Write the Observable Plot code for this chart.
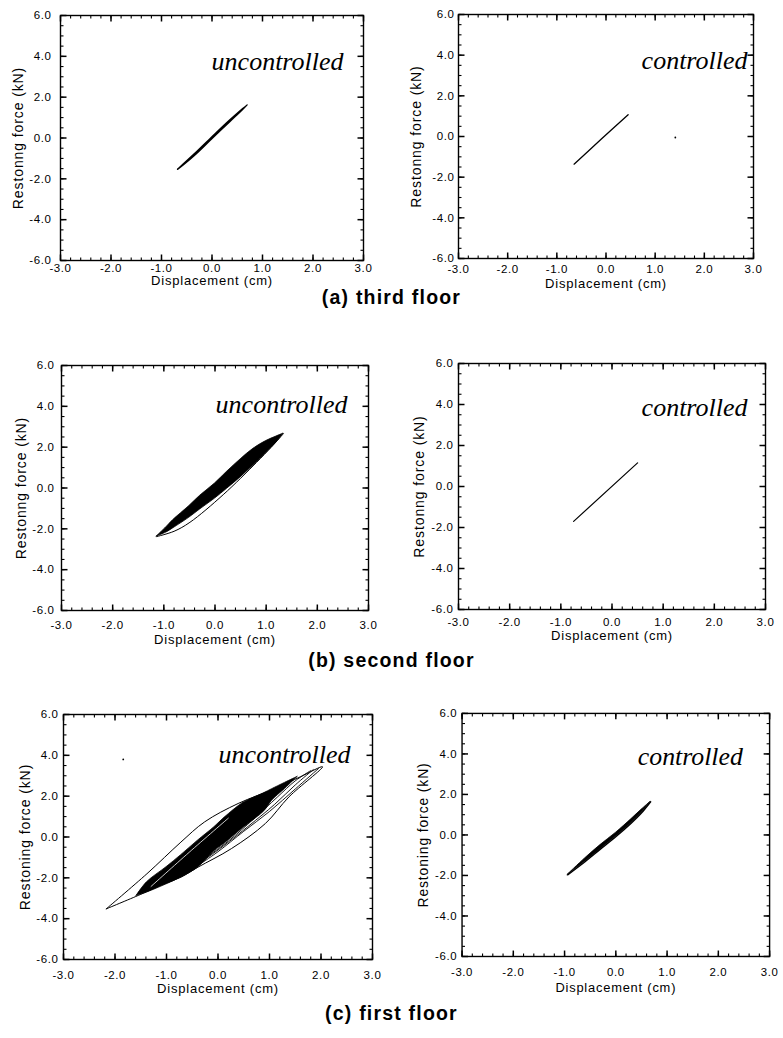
<!DOCTYPE html>
<html><head><meta charset="utf-8">
<script src="https://cdn.jsdelivr.net/npm/d3@7"></script>
<script src="https://cdn.jsdelivr.net/npm/@observablehq/plot@0.6"></script>
<style>
html,body{margin:0;padding:0;background:#fff;}
#page{position:relative;width:783px;height:1038px;overflow:hidden;background:#fff;}
.panel{position:absolute;}
.caption{position:absolute;left:0;width:783px;text-align:center;font-family:"Liberation Sans",Arial,sans-serif;font-weight:bold;font-size:19.5px;letter-spacing:1.2px;color:#000;line-height:20px;}
</style></head><body><div id="page"></div>
<script>
// ---- axis ticks ----
const xTicks = [-3, -2, -1, 0, 1, 2, 3];
const yTicks = [-6, -4, -2, 0, 2, 4, 6];
const xMinor = d3.ticks(-3, 3, 30);   // 0.2 steps
const yMinor = d3.ticks(-6, 6, 30);   // 0.4 steps

// ---- data: [displacement cm, force kN] ----
// (a) third floor
const thirdUncontrolled = [[-0.68,-1.53],[-0.35,-0.78],[0,0.06],[0.35,0.88],[0.70,1.63],[0.35,0.80],[0,-0.02],[-0.35,-0.85],[-0.68,-1.53]];
const thirdControlled = [[-0.65,-1.36],[-0.1,-0.14],[0.45,1.07]];
const thirdControlledSpeck = [[1.41,-0.05]];
// (b) second floor  band rows: [x, lower, upper]
const secondUncBand = [[-1.14,-2.38,-2.38],[-0.95,-2.18,-1.92],[-0.82,-1.98,-1.58],[-0.5,-1.45,-0.88],[-0.29,-1.05,-0.38],[0,-0.52,0.22],[0.23,-0.05,0.78],[0.5,0.52,1.40],[0.75,1.10,1.92],[1.0,1.72,2.30],[1.2,2.22,2.52],[1.34,2.67,2.67]];
const secondUncLoop = [[-1.14,-2.38],[-0.8,-2.12],[-0.49,-1.68],[0.16,-0.33],[0.81,1.25],[1.1,2.0],[1.34,2.67]];
const secondControlled = [[-0.75,-1.7],[0.5,1.15]];
// (c) first floor
const firstUncBand = [[-1.58,-2.88,-2.88],[-1.38,-2.72,-2.22],[-1.0,-2.32,-1.48],[-0.72,-1.99,-0.90],[-0.39,-1.50,-0.18],[-0.07,-0.70,0.48],[0.13,-0.32,0.95],[0.46,0.38,1.62],[0.59,0.64,1.80],[0.9,1.26,2.15],[1.05,1.78,2.34],[1.3,2.35,2.65],[1.55,2.95,2.95]];
const firstUncOuter = [[-2.17,-3.52],[-1.38,-1.80],[-0.72,-0.25],[-0.26,0.74],[0.39,1.64],[1.12,2.38],[1.6,2.95],[2.03,3.44],[1.38,1.97],[0.92,0.66],[0.26,-0.57],[-0.39,-1.48],[-0.72,-1.97],[-1.05,-2.30],[-1.51,-2.82],[-2.17,-3.52]];
const firstUncInner1 = [[-0.39,-1.40],[0.0,-0.72],[0.5,0.28],[1.0,1.25],[1.5,2.35],[1.95,3.35]];
const firstUncInner2 = [[-0.3,-1.18],[0.1,-0.45],[0.6,0.55],[1.1,1.6],[1.5,2.55],[1.85,3.3]];
const firstUncInner3 = [[-0.2,-0.95],[0.2,-0.2],[0.7,0.9],[1.15,1.95],[1.5,2.75],[1.8,3.25]];
const firstUncGap = [[-1.3,-2.42],[-0.56,-0.75],[0.2,0.92]];
const firstUncSpeck = [[-1.84,3.80]];
const firstControlledBand = [[-0.94,-1.97,-1.97],[-0.6,-1.32,-1.16],[-0.3,-0.70,-0.50],[0,-0.09,0.10],[0.3,0.58,0.77],[0.5,1.08,1.24],[0.68,1.64,1.64]];

const captions = ["(a) third floor", "(b) second floor", "(c) first floor"];

// ---- mark helpers ----
const X = d => d[0], Y = d => d[1];
const band = (data, o = {}) => Plot.areaY(data, {x: X, y1: d => d[1], y2: d => d[2], fill: "black", stroke: "black", strokeWidth: 0.8, curve: "catmull-rom", ...o});
const loop = (data, o = {}) => Plot.line(data, {x: X, y: Y, stroke: "black", strokeWidth: 1, curve: "catmull-rom", ...o});
const speck = data => Plot.dot(data, {x: X, y: Y, r: 0.9, fill: "black"});

// ---- layout of the six panels (page pixels) ----
const panels = [
  {frame:[60,15,363,260], ylabel:"Restonng force (kN)", title:"uncontrolled", tdx:-20, tdy:54, xPad:3, xLab:24, yPad:9, yLab:47,
   marks:[loop(thirdUncontrolled, {strokeWidth: 1.6})]},
  {frame:[458,14,753,258], ylabel:"Restonng force (kN)", title:"controlled", tdx:-6, tdy:54, xPad:6, xLab:29, yPad:4, yLab:47,
   marks:[loop(thirdControlled, {strokeWidth: 1.3}), speck(thirdControlledSpeck)]},
  {frame:[61,365,368,610], ylabel:"Restonng force (kN)", title:"uncontrolled", tdx:-21, tdy:47, xPad:10, xLab:33, yPad:7, yLab:45,
   marks:[band(secondUncBand), loop(secondUncLoop)]},
  {frame:[458,363,765,609], ylabel:"Restonng force (kN)", title:"controlled", tdx:-18, tdy:52, xPad:8, xLab:30, yPad:5, yLab:44,
   marks:[loop(secondControlled, {strokeWidth: 1.2})]},
  {frame:[63,714,372,959], ylabel:"Restoning force (kN)", title:"uncontrolled", tdx:-22, tdy:48, xPad:11, xLab:33, yPad:5, yLab:43,
   marks:[band(firstUncBand), loop(firstUncOuter), loop(firstUncInner1, {strokeWidth: 0.9}), loop(firstUncInner2, {strokeWidth: 0.9}), loop(firstUncInner3, {strokeWidth: 0.9}), loop(firstUncGap, {stroke: "white", strokeWidth: 0.8}), speck(firstUncSpeck)]},
  {frame:[462,713,772,958], ylabel:"Restoning force (kN)", title:"controlled", tdx:-27, tdy:52, xPad:12, xLab:36, yPad:5, yLab:44,
   marks:[band(firstControlledBand), loop(firstControlledBand, {strokeWidth: 1.4})]}
];
const captionY = [287, 650, 1003];

const page = document.getElementById("page");
const sans = '"Liberation Sans", Arial, Helvetica, sans-serif';
const fmt = d => d.toFixed(1);

panels.forEach(p => {
  const [l, t, r, b] = p.frame;
  const mL = 58, mT = 10, mR = 14, mB = 48;
  const fw = r - l, fh = b - t;
  const W = fw + mL + mR, H = fh + mT + mB;
  // inward frame ticks as short links; pixel lengths converted to data units of each scale
  const ux = 6 / fw, uy = 12 / fh;
  const tickMarks = [];
  for (const [vals, size, sw] of [[xMinor, 3, 1.1], [xTicks, 6, 1.5]]) {
    tickMarks.push(Plot.link(vals, {x1: d => d, x2: d => d, y1: () => -6, y2: () => -6 + size * uy, stroke: "black", strokeWidth: sw}));
    tickMarks.push(Plot.link(vals, {x1: d => d, x2: d => d, y1: () => 6, y2: () => 6 - size * uy, stroke: "black", strokeWidth: sw}));
  }
  for (const [vals, size, sw] of [[yMinor, 3, 1.1], [yTicks, 6, 1.5]]) {
    tickMarks.push(Plot.link(vals, {y1: d => d, y2: d => d, x1: () => -3, x2: () => -3 + size * ux, stroke: "black", strokeWidth: sw}));
    tickMarks.push(Plot.link(vals, {y1: d => d, y2: d => d, x1: () => 3, x2: () => 3 - size * ux, stroke: "black", strokeWidth: sw}));
  }
  const chart = Plot.plot({
    width: W, height: H, marginLeft: mL, marginTop: mT, marginRight: mR, marginBottom: mB,
    x: {domain: [-3, 3]}, y: {domain: [-6, 6]},
    style: {fontFamily: sans, background: "white", color: "black"},
    marks: [
      ...p.marks,
      ...tickMarks,
      Plot.frame({stroke: "black", strokeWidth: 1.4}),
      Plot.axisX(xTicks, {anchor: "bottom", tickSize: 0, tickPadding: p.xPad, tickFormat: fmt, fontSize: 11.5, label: null}),
      Plot.axisY(yTicks, {anchor: "left", tickSize: 0, tickPadding: p.yPad, tickFormat: fmt, fontSize: 11.5, label: null}),
      Plot.axisX([], {anchor: "bottom", tickSize: 0, label: "Displacement (cm)", labelAnchor: "center", labelArrow: "none", labelOffset: p.xLab, fontSize: 13}),
      Plot.axisY([], {anchor: "left", tickSize: 0, label: p.ylabel, labelAnchor: "center", labelArrow: "none", labelOffset: p.yLab, fontSize: 14}),
      Plot.text([p.title], {frameAnchor: "top-right", dx: p.tdx, dy: p.tdy, lineAnchor: "bottom", textAnchor: "end",
        fontFamily: '"Liberation Serif", "Times New Roman", serif', fontStyle: "italic", fontSize: 26, fill: "black", ariaLabel: "panel title"})
    ]
  });
  const sel = d3.select(chart);
  sel.selectAll("g[aria-label='x-axis tick label'], g[aria-label='y-axis tick label']").attr("letter-spacing", "0.6px");
  sel.selectAll("g[aria-label='x-axis label']").attr("letter-spacing", "0.8px");
  sel.selectAll("g[aria-label='y-axis label']").attr("letter-spacing", "0.9px");
  sel.selectAll("g[aria-label='panel title']").attr("letter-spacing", "1.6px");
  const div = document.createElement("div");
  div.className = "panel";
  div.style.left = (l - mL) + "px";
  div.style.top = (t - mT) + "px";
  div.appendChild(chart);
  page.appendChild(div);
});

captions.forEach((c, i) => {
  const d = document.createElement("div");
  d.className = "caption";
  d.style.top = captionY[i] + "px";
  d.textContent = c;
  page.appendChild(d);
});
</script>
</body></html>
